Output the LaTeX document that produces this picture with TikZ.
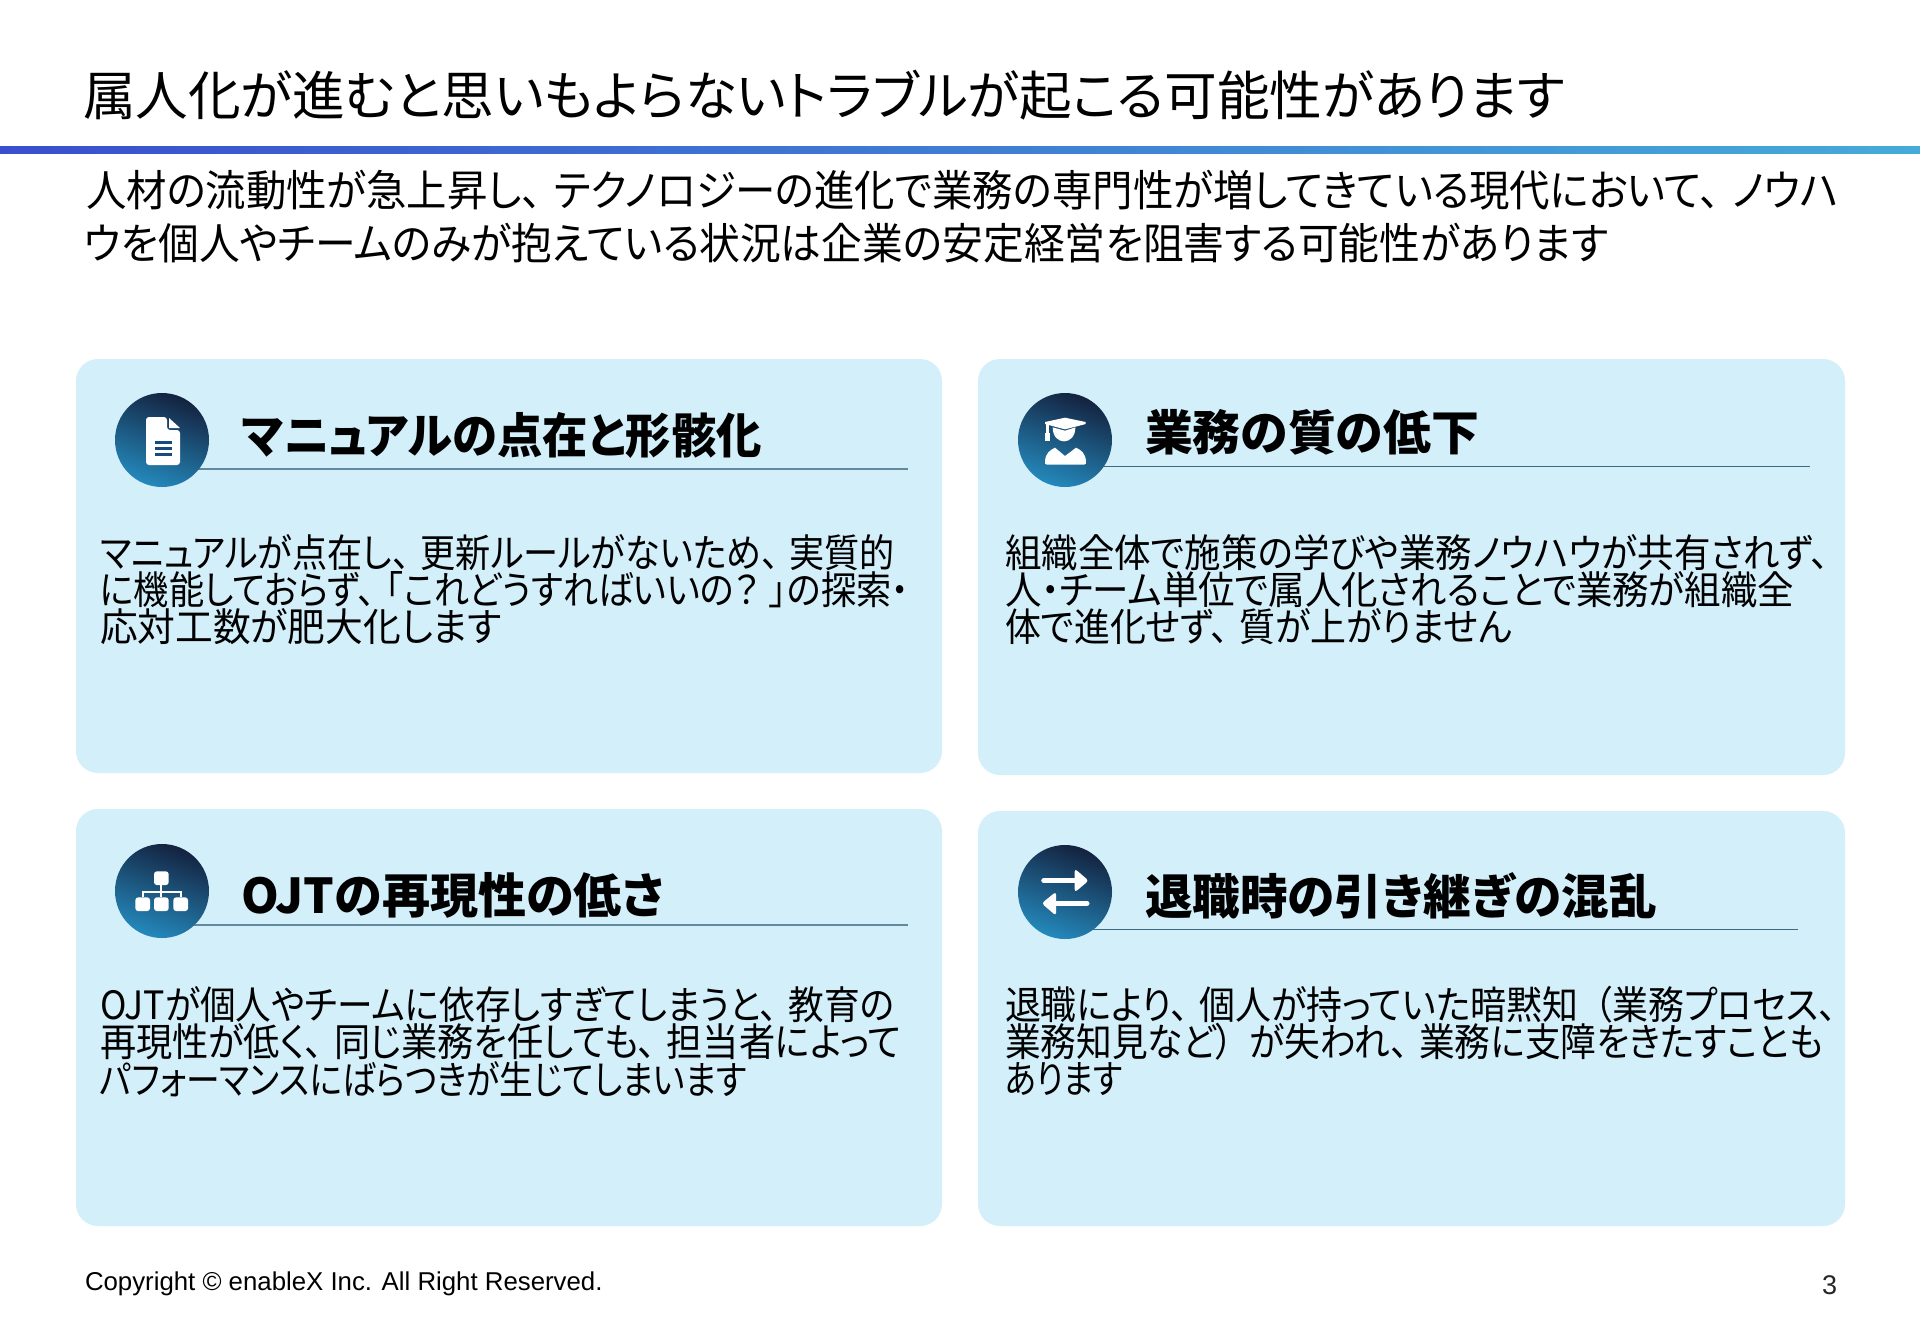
\documentclass[tikz,border=0pt]{standalone}
\usepackage{fontspec}
\usepackage{graphicx}
\setmainfont{Liberation Sans}
\newfontfamily\jp[RawFeature=+palt]{Noto Sans CJK JP}
\definecolor{cardbg}{HTML}{D3EFFA}
\definecolor{ruleline}{HTML}{5F8AA0}
\definecolor{ruledark}{HTML}{3F6A86}
\definecolor{HeadA}{HTML}{14223F}
\definecolor{HeadB}{HTML}{122F68}
\definecolor{HeadC}{HTML}{2489BC}
\definecolor{RuleA}{HTML}{3A4FCE}
\definecolor{RuleB}{HTML}{3F73D3}
\definecolor{RuleC}{HTML}{45ABD9}
\tikzset{x=0.5pt,y=-0.5pt,
  card/.style={fill=cardbg,rounded corners=11pt,draw=none},
  iconw/.style={fill=white,draw=none},
  txt/.style={anchor=west,inner sep=0pt,outer sep=0pt,text=black}}
\newcommand{\fitline}[6]{\node[txt] (#1) at (#2,#3) {\resizebox{#4pt}{\height}{\fontsize{#5}{#5}\jp #6}};}
\newcommand{\fitbold}[6]{\node[txt] (#1) at (#2,#3) {\resizebox{#4pt}{\height}{\fontsize{#5}{#5}\jp\bfseries #6}};}
\newcommand{\badge}[2]{\shade[top color=HeadA,middle color=HeadB,bottom color=HeadC,shading angle=-20] (#1,#2) circle[radius=23.5pt];}
\newcommand{\tn}{、\hspace{.3em}}
\begin{document}
\begin{tikzpicture}
\useasboundingbox (0,0) rectangle (1920,1329);
\fill[white] (0,0) rectangle (1920,1329);
% title rule
\shade[left color=RuleA,middle color=RuleB,right color=RuleC] (0,146) rectangle (1920,153);
\fitline{title}{83}{95}{741}{26.5}{属人化が進むと思いもよらないトラブルが起こる可能性があります}
\fitline{subA}{86}{190}{876.5}{21.5}{人材の流動性が急上昇し\tn テクノロジーの進化で業務の専門性が増してきている現代において\tn ノウハ}
\fitline{subB}{84}{243}{762}{21.5}{ウを個人やチームのみが抱えている状況は企業の安定経営を阻害する可能性があります}
% cards
\fill[card] (76,359) rectangle (942,773);
\fill[card] (978,359) rectangle (1845,775);
\fill[card] (76,809) rectangle (942,1226);
\fill[card] (978,811) rectangle (1845,1226);
% heading lines
\draw[ruleline,line width=0.7pt] (198,469) -- (908,469);
\draw[ruledark,line width=0.45pt] (1096,466) -- (1810,466);
\draw[ruleline,line width=0.7pt] (194,925) -- (908,925);
\draw[ruledark,line width=0.45pt] (1083,929) -- (1798,929);
% badges
\badge{162}{440}
\badge{1065}{440}
\badge{162}{891}
\badge{1065}{892}
% document icon
\fill[iconw,rounded corners=1.5pt] (146,417) -- (167,417) -- (167,430) -- (180,430) -- (180,465) -- (146,465) -- cycle;
\fill[iconw] (169,418) -- (180,428) -- (169,428) -- cycle;
\fill[HeadB!70!HeadC] (155,441) rectangle (172,444);
\fill[HeadB!70!HeadC] (155,446.5) rectangle (172,449.5);
\fill[HeadB!70!HeadC] (155,452.5) rectangle (172,455.5);
% graduate icon
\begin{scope}[shift={(1000,370)},x=0.1667pt,y=-0.1667pt]
 \fill[iconw] (135,156) -- (195,143) -- (257,156) -- (257,162) -- (195,178) -- (135,162) -- cycle;
 \fill[iconw] (139,160) rectangle (146,190);
 \fill[iconw] (135,190) -- (149,190) -- (149,212) -- (135,212) -- cycle;
 \fill[iconw] (158,172) .. controls (158,228) and (226,228) .. (226,172) -- (195,182) -- cycle;
 \fill[iconw] (141,284) .. controls (135,284) and (135,280) .. (135,274) .. controls (136,250) and (150,240) .. (165,233) -- (195,258) -- (228,233) .. controls (244,240) and (256,250) .. (258,274) .. controls (258,280) and (258,284) .. (252,284) -- cycle;
\end{scope}
% org icon
\begin{scope}[shift={(90,830)},x=0.1667pt,y=-0.1667pt]
 \fill[iconw,rounded corners=1.4pt] (192,124) rectangle (236,165);
 \fill[iconw] (211,165) rectangle (217,202);
 \fill[iconw] (155,182) rectangle (275,188);
 \fill[iconw] (155,182) rectangle (161,202);
 \fill[iconw] (269,182) rectangle (275,202);
 \fill[iconw,rounded corners=1.4pt] (136,202) rectangle (180,243);
 \fill[iconw,rounded corners=1.4pt] (192,202) rectangle (236,243);
 \fill[iconw,rounded corners=1.4pt] (250,202) rectangle (294,243);
\end{scope}
% arrows icon
\begin{scope}[shift={(1000,830)},x=0.1667pt,y=-0.1667pt]
 \draw[white,line width=2.8pt,line cap=round] (132,152) -- (240,152);
 \fill[iconw,rounded corners=1.5pt] (224,116) -- (266,152) -- (224,187) -- cycle;
 \draw[white,line width=2.8pt,line cap=round] (260,220) -- (150,220);
 \fill[iconw,rounded corners=1.5pt] (168,185) -- (125,220) -- (168,257) -- cycle;
\end{scope}
% headings
\fitbold{hA}{242}{435}{260}{24}{マニュアルの点在と形骸化}
\fitbold{hB}{1145}{432}{167}{24}{業務の質の低下}
\fitbold{hC}{241}{895}{211.5}{24}{OJTの再現性の低さ}
\fitbold{hD}{1145}{896}{256}{24}{退職時の引き継ぎの混乱}
% bodies
\fitline{aA}{100}{553}{397.5}{19.5}{マニュアルが点在し\tn 更新ルールがないため\tn 実質的}
\fitline{aB}{100}{590}{404.5}{19.5}{に機能しておらず\tn「これどうすればいいの？\hspace{.3em}」の探索・}
\fitline{aC}{100}{627}{201}{19.5}{応対工数が肥大化します}
\fitline{bA}{1005}{553}{412}{19.5}{組織全体で施策の学びや業務ノウハウが共有されず\tn\hspace{-.3em}}
\fitline{bB}{1005}{590}{394.5}{19.5}{人・チーム単位で属人化されることで業務が組織全}
\fitline{bC}{1005}{627}{253.5}{19.5}{体で進化せず\tn 質が上がりません}
\fitline{cA}{100}{1005}{397}{19.5}{OJTが個人やチームに依存しすぎてしまうと\tn 教育の}
\fitline{cB}{100}{1042}{400.5}{19.5}{再現性が低く\tn 同じ業務を任しても\tn 担当者によって}
\fitline{cC}{100}{1079}{323.5}{19.5}{パフォーマンスにばらつきが生じてしまいます}
\fitline{dA}{1005}{1005}{416}{19.5}{退職により\tn 個人が持っていた暗黙知\hspace{.45em}（業務プロセス、}
\fitline{dB}{1005}{1042}{409}{19.5}{業務知見など）\hspace{.45em}が失われ\tn 業務に支障をきたすことも}
\fitline{dC}{1005}{1079}{59}{19.5}{あります}
% footer
\node[txt,font=\fontsize{12.9}{15}\selectfont] (copy) at (85,1283.5) {Copyright © enableX Inc. All Right Reserved.};
\node[txt,font=\fontsize{13.5}{15}\selectfont,text=black!85] (page) at (1822,1285) {3};
\end{tikzpicture}
\end{document}
